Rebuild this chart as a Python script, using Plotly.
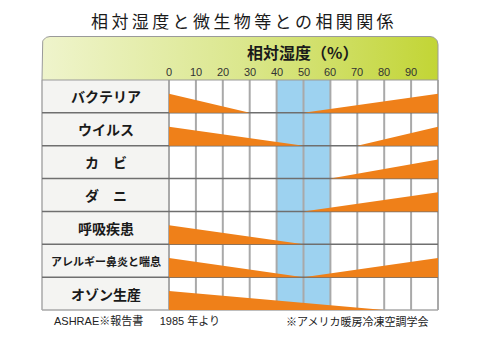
import plotly.graph_objects as go
import numpy as np

# ---- data ----
categories = ["バクテリア", "ウイルス", "カ　ビ", "ダ　ニ", "呼吸疾患", "アレルギー鼻炎と喘息", "オゾン生産"]
# humidity (%) where the decreasing (dry-side) wedge ends; None = no dry-side effect
dry_end = [30, 50, None, None, 50, 50, 80]
# humidity (%) where the increasing (humid-side) wedge starts; None = no humid-side effect
wet_start = [50, 70, 60, 50, None, 50, None]
tick_values = [0, 10, 20, 30, 40, 50, 60, 70, 80, 90]
optimal_range = [40, 60]
title = "相対湿度と微生物等との相関関係"
axis_title = "相対湿度（%）"
source_left = "ASHRAE※報告書　\u20021985 年より"
source_right = "※アメリカ暖房冷凍空調学会"

# ---- layout geometry (pixel mapping) ----
W, H = 480, 339
X0PX, PXPER = 169.0, 2.69        # pixel of 0%, px per 1%
Y0PX, ROWPX = 80.0, 32.857       # pixel of grid top, px per row
def xd(px): return (px - X0PX) / PXPER
def yd(py): return (py - Y0PX) / ROWPX

n = len(categories)
LEFT = xd(42)
ORANGE = "#ef8019"
BLUE = "#9dd2f0"
WEDGE_H = 0.58

fig = go.Figure()

# header with rounded top corners and horizontal gradient
top = yd(36.5)
rx, ry = 8 / PXPER, 8 / ROWPX
hx, hy = [LEFT], [0]
for a in np.linspace(np.pi, np.pi / 2, 12):
    hx.append(LEFT + rx + rx * np.cos(a)); hy.append(top + ry - ry * np.sin(a))
for a in np.linspace(np.pi / 2, 0, 12):
    hx.append(100 - rx + rx * np.cos(a)); hy.append(top + ry - ry * np.sin(a))
hx += [100, LEFT]; hy += [0, 0]
fig.add_trace(go.Scatter(x=hx, y=hy, mode="lines", fill="toself",
                         line=dict(color="#9a9a9a", width=1),
                         fillgradient=dict(type="horizontal",
                                           colorscale=[[0, "#eff4cc"], [0.5, "#dbe78e"], [1, "#c2d535"]]),
                         hoverinfo="skip", showlegend=False))

shapes = []
# label column
shapes.append(dict(type="rect", x0=LEFT, x1=0, y0=0, y1=n, fillcolor="#f4f4f2",
                   line=dict(width=0), layer="below"))
# optimal band
shapes.append(dict(type="rect", x0=optimal_range[0], x1=optimal_range[1], y0=0, y1=n,
                   fillcolor=BLUE, line=dict(width=0), layer="below"))
# vertical grid lines
for v in range(0, 101, 10):
    shapes.append(dict(type="line", x0=v, x1=v, y0=0, y1=n,
                       line=dict(color="#a9a9a9", width=2), layer="below"))
shapes.append(dict(type="line", x0=LEFT, x1=LEFT, y0=0, y1=n,
                   line=dict(color="#a9a9a9", width=1.5), layer="below"))
# horizontal row lines
for r in range(1, n):
    shapes.append(dict(type="line", x0=LEFT, x1=100, y0=r, y1=r,
                       line=dict(color="#6f6f6f", width=1.5), layer="below"))
shapes.append(dict(type="line", x0=LEFT, x1=100, y0=n, y1=n,
                   line=dict(color="#a9a9a9", width=1.5), layer="below"))
fig.update_layout(shapes=shapes)

# wedges
for r in range(n):
    base = r + 1
    if dry_end[r] is not None:
        fig.add_trace(go.Scatter(x=[0, 0, dry_end[r], 0], y=[base, base - WEDGE_H, base, base],
                                 mode="lines", fill="toself", fillcolor=ORANGE,
                                 line=dict(width=0, color=ORANGE), hoverinfo="skip", showlegend=False))
    if wet_start[r] is not None:
        fig.add_trace(go.Scatter(x=[wet_start[r], 100, 100, wet_start[r]], y=[base, base - WEDGE_H, base, base],
                                 mode="lines", fill="toself", fillcolor=ORANGE,
                                 line=dict(width=0, color=ORANGE), hoverinfo="skip", showlegend=False))

ann = []
JP = "Noto Sans CJK JP"
LAT = "Liberation Sans, Noto Sans CJK JP"
ann.append(dict(x=xd(242), y=yd(20), text="\u2009".join(title), showarrow=False,
                font=dict(family=JP, size=17, color="#1a1a1a")))
ann.append(dict(x=xd(302), y=yd(52), text=axis_title, showarrow=False,
                font=dict(family=JP, size=16, color="#1a1a1a", weight="bold")))
for t in tick_values:
    ann.append(dict(x=t, y=yd(71.5), text=str(t), showarrow=False,
                    font=dict(family="Liberation Sans, Arial", size=11, color="#333333")))
mid = (LEFT + 0) / 2
for r, c in enumerate(categories):
    size = 11 if len(c) > 6 else 14
    ann.append(dict(x=mid, y=r + 0.5, text=c, showarrow=False,
                    font=dict(family=JP, size=size, color="#1a1a1a", weight="bold")))
ann.append(dict(x=xd(52), y=yd(320), text=source_left, showarrow=False, xanchor="left",
                font=dict(family=LAT, size=11, color="#222222")))
ann.append(dict(x=xd(430), y=yd(321), text=source_right, showarrow=False, xanchor="right",
                font=dict(family=JP, size=11, color="#222222")))

fig.update_layout(
    annotations=ann,
    width=W, height=H, autosize=False,
    margin=dict(l=0, r=0, t=0, b=0),
    paper_bgcolor="white", plot_bgcolor="white",
    xaxis=dict(range=[xd(0), xd(W)], visible=False, fixedrange=True),
    yaxis=dict(range=[yd(H), yd(0)], visible=False, fixedrange=True),
    showlegend=False,
)
fig.write_html("out.html")
